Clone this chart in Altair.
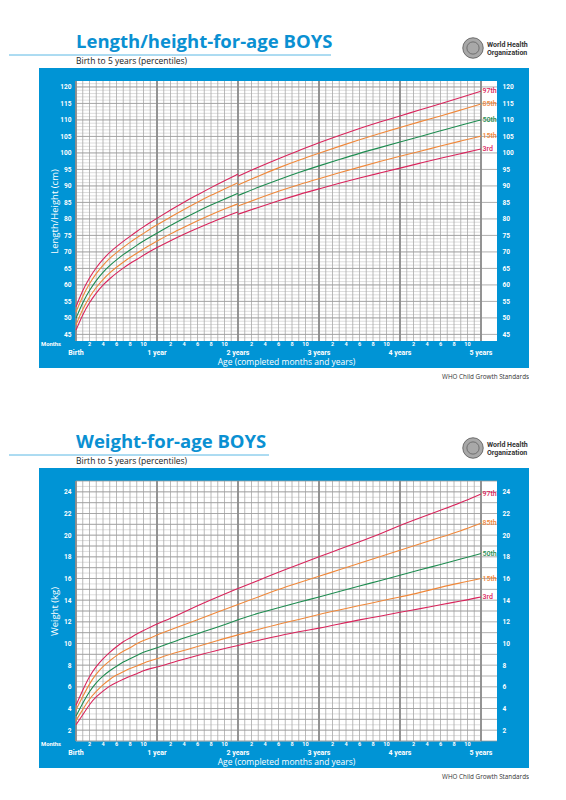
import altair as alt
import pandas as pd

# ---------------- data ----------------
pct_names = ["97th", "85th", "50th", "15th", "3rd"]

len_months = [0, 1, 2, 3, 4, 5, 6, 7, 8, 9, 10, 11, 12, 14, 16, 18, 20, 22, 24]
len_p3 = [46.3, 51.1, 54.7, 57.6, 60.0, 61.9, 63.6, 65.1, 66.5, 67.7, 69.0, 70.2, 71.3, 73.4, 75.4, 77.2, 78.9, 80.6, 82.1]
len_p15 = [47.9, 52.7, 56.4, 59.3, 61.7, 63.7, 65.4, 66.9, 68.3, 69.6, 70.9, 72.1, 73.3, 75.5, 77.5, 79.5, 81.3, 83.0, 84.6]
len_p50 = [49.9, 54.7, 58.4, 61.4, 63.9, 65.9, 67.6, 69.2, 70.6, 72.0, 73.3, 74.5, 75.7, 78.0, 80.2, 82.3, 84.2, 86.0, 87.8]
len_p85 = [51.8, 56.7, 60.5, 63.5, 66.0, 68.1, 69.8, 71.4, 72.9, 74.3, 75.6, 77.0, 78.2, 80.6, 82.9, 85.1, 87.2, 89.1, 91.0]
len_p97 = [53.4, 58.4, 62.2, 65.3, 67.8, 69.9, 71.6, 73.2, 74.7, 76.2, 77.6, 78.9, 80.2, 82.7, 85.1, 87.3, 89.5, 91.6, 93.6]

hgt_months = [24, 27, 30, 33, 36, 39, 42, 45, 48, 51, 54, 57, 60]
hgt_p3 = [81.4, 83.5, 85.5, 87.4, 89.1, 90.8, 92.4, 93.9, 95.4, 96.9, 98.4, 99.8, 101.2]
hgt_p15 = [83.9, 86.2, 88.4, 90.4, 92.2, 94.0, 95.7, 97.4, 99.0, 100.5, 102.1, 103.6, 105.1]
hgt_p50 = [87.1, 89.6, 91.9, 94.1, 96.1, 98.0, 99.9, 101.6, 103.3, 105.0, 106.7, 108.4, 110.0]
hgt_p85 = [90.3, 93.0, 95.5, 97.8, 99.9, 102.0, 104.0, 105.9, 107.7, 109.5, 111.2, 113.0, 114.8]
hgt_p97 = [92.9, 95.7, 98.3, 100.7, 103.1, 105.3, 107.4, 109.4, 111.2, 113.1, 114.9, 116.8, 118.7]

wt_months = [0, 1, 2, 3, 4, 5, 6, 7, 8, 9, 10, 11, 12, 15, 18, 21, 24, 27, 30, 33, 36, 39, 42, 45, 48, 51, 54, 57, 60]
wt_p3 = [2.5, 3.4, 4.4, 5.1, 5.6, 6.1, 6.4, 6.7, 7.0, 7.2, 7.5, 7.7, 7.8, 8.4, 8.9, 9.4, 9.8, 10.3, 10.7, 11.1, 11.4, 11.8, 12.2, 12.5, 12.9, 13.2, 13.6, 13.9, 14.3]
wt_p15 = [2.9, 3.9, 4.9, 5.6, 6.2, 6.7, 7.1, 7.4, 7.7, 7.9, 8.2, 8.4, 8.6, 9.2, 9.7, 10.3, 10.8, 11.3, 11.8, 12.2, 12.7, 13.1, 13.5, 13.9, 14.3, 14.7, 15.2, 15.6, 16.0]
wt_p50 = [3.3, 4.5, 5.6, 6.4, 7.0, 7.5, 7.9, 8.3, 8.6, 8.9, 9.2, 9.4, 9.6, 10.3, 10.9, 11.5, 12.2, 12.8, 13.3, 13.8, 14.3, 14.8, 15.3, 15.8, 16.3, 16.8, 17.3, 17.8, 18.3]
wt_p85 = [3.9, 5.1, 6.3, 7.2, 7.9, 8.4, 8.9, 9.3, 9.6, 10.0, 10.3, 10.5, 10.8, 11.5, 12.2, 12.9, 13.6, 14.3, 15.0, 15.6, 16.2, 16.8, 17.4, 18.0, 18.6, 19.2, 19.8, 20.4, 21.1]
wt_p97 = [4.3, 5.7, 7.0, 7.9, 8.6, 9.2, 9.7, 10.2, 10.5, 10.9, 11.2, 11.5, 11.8, 12.6, 13.5, 14.3, 15.1, 15.8, 16.6, 17.3, 18.0, 18.7, 19.4, 20.1, 20.9, 21.6, 22.3, 23.0, 23.8]

year_months = [0, 12, 24, 36, 48, 60]
year_labels = ["Birth", "1 year", "2 years", "3 years", "4 years", "5 years"]
month_in_year = [2, 4, 6, 8, 10]

len_ticks = [45, 50, 55, 60, 65, 70, 75, 80, 85, 90, 95, 100, 105, 110, 115, 120]
wt_ticks = [2, 4, 6, 8, 10, 12, 14, 16, 18, 20, 22, 24]

# ---------------- style ----------------
BLUE = "#0094d5"
TITLE_BLUE = "#0a90d2"
RED = "#d9255c"
ORANGE = "#f0883a"
GREEN = "#1e8c50"
pct_colors = [RED, ORANGE, GREEN, ORANGE, RED]
W, H = 421, 260
X_MAX = 62.37
NARROW = "Roboto"
SANS = "Open Sans"


def seg_rows(seg, months, series):
    rows = []
    for name, vals in zip(pct_names, series):
        for m, v in zip(months, vals):
            rows.append({"seg": seg, "pct": name, "m": m, "v": v})
    return rows


def panel(title, underline_end, y_domain, y_title, y_ticks, minor_vals, major_vals, line_rows):
    xs = alt.Scale(domain=[0, X_MAX], nice=False, zero=False)
    ys = alt.Scale(domain=y_domain, nice=False, zero=False)
    one = alt.Data(values=[{"a": 1}])
    cscale = alt.Scale(domain=pct_names, range=pct_colors)

    blue = alt.Chart(one).mark_rect(color=BLUE).encode(
        x=alt.value(-37), x2=alt.value(453), y=alt.value(-13), y2=alt.value(287))
    white = alt.Chart(one).mark_rect(color="white").encode(
        x=alt.value(0), x2=alt.value(W), y=alt.value(0), y2=alt.value(H))

    minor_df = pd.DataFrame({"v": minor_vals})
    minor = alt.Chart(minor_df).mark_rule(color="#cfcfcf", strokeWidth=0.7).encode(
        y=alt.Y("v:Q", scale=ys, axis=None),
        x=alt.X(datum=0, scale=xs, axis=None), x2=alt.X2(datum=60))

    month_df = pd.DataFrame({"m": list(range(0, 61))})
    vlines = alt.Chart(month_df).mark_rule(color="#a8a8a8", strokeWidth=0.8).encode(
        x=alt.X("m:Q", scale=xs, axis=None))

    major_df = pd.DataFrame({"v": major_vals})
    major = alt.Chart(major_df).mark_rule(color="#9a9a9a", strokeWidth=0.8).encode(
        y=alt.Y("v:Q", scale=ys, axis=alt.Axis(
            orient="left", values=y_ticks, domain=False, ticks=False, grid=False, zindex=2,
            labelColor="white", labelFont=NARROW, labelFontWeight="bold", labelFontSize=6.5,
            labelPadding=5, title=y_title, titleColor="white", titleFont=SANS,
            titleFontSize=9.5, titleFontWeight="normal", titleX=-22, titleY=H / 2,
            titleAngle=-90, titleAlign="center", titleBaseline="middle")))

    right_axis = alt.Chart(major_df).mark_rule(opacity=0).encode(
        y=alt.Y("v:Q", scale=ys, axis=alt.Axis(
            orient="right", values=y_ticks, domain=False, ticks=False, grid=False, zindex=2,
            labelColor="white", labelFont=NARROW, labelFontWeight="bold", labelFontSize=6.5,
            labelPadding=5, title=None)))

    year_df = pd.DataFrame({"m": year_months, "lab": year_labels})
    ylines = alt.Chart(year_df).mark_rule(color="#8c8c8c", strokeWidth=1.8).encode(
        x=alt.X("m:Q", scale=xs, axis=None))

    ldf = pd.DataFrame(line_rows)
    lines = alt.Chart(ldf).mark_line(strokeWidth=1.1, interpolate="basis").encode(
        x=alt.X("m:Q", scale=xs, axis=None),
        y=alt.Y("v:Q", scale=ys, axis=None),
        color=alt.Color("pct:N", scale=cscale, legend=None),
        detail="seg:N")

    end_df = ldf[ldf["m"] == 60]
    labels = alt.Chart(end_df).mark_text(align="left", dx=1.5, fontSize=7, font=NARROW,
                                        fontWeight=500, baseline="middle").encode(
        x=alt.X("m:Q", scale=xs, axis=None),
        y=alt.Y("v:Q", scale=ys, axis=None),
        text="pct:N",
        color=alt.Color("pct:N", scale=cscale, legend=None))

    mt_rows = [{"m": y * 12 + k, "lab": str(k)} for y in range(5) for k in month_in_year]
    mt = alt.Chart(pd.DataFrame(mt_rows)).mark_text(
        color="white", fontSize=5.5, font=NARROW, fontWeight="bold", baseline="middle").encode(
        x=alt.X("m:Q", scale=xs, axis=None), y=alt.value(263), text="lab:N")

    yl = alt.Chart(year_df).mark_text(
        color="white", fontSize=7, font=NARROW, fontWeight="bold", baseline="middle").encode(
        x=alt.X("m:Q", scale=xs, axis=None), y=alt.value(271.5), text="lab:N")

    months_t = alt.Chart(one).mark_text(
        text="Months", color="white", fontSize=5.8, font=NARROW, fontWeight="bold",
        baseline="middle").encode(x=alt.value(-25), y=alt.value(263))

    age_t = alt.Chart(one).mark_text(
        text="Age (completed months and years)", color="white", fontSize=8.5, font=SANS,
        baseline="middle").encode(x=alt.value(W / 2), y=alt.value(281))

    std_t = alt.Chart(one).mark_text(
        text="WHO Child Growth Standards", color="#333333", fontSize=6.3, font=SANS,
        align="right", baseline="middle").encode(x=alt.value(453), y=alt.value(296))

    title_t = alt.Chart(one).mark_text(
        text=title, color=TITLE_BLUE, fontSize=18.5, font=SANS, fontWeight="bold",
        align="left", baseline="alphabetic").encode(x=alt.value(0), y=alt.value(-33))

    uline = alt.Chart(one).mark_rule(color="#5bb8e4", strokeWidth=1).encode(
        x=alt.value(-67), x2=alt.value(underline_end), y=alt.value(-26))

    sub_t = alt.Chart(one).mark_text(
        text="Birth to 5 years (percentiles)", color="#222222", fontSize=8.5, font=SANS,
        align="left", baseline="middle").encode(x=alt.value(0), y=alt.value(-20))

    emblem = alt.Chart(one).mark_point(
        shape="circle", size=420, filled=True, color="#a8a8a8", stroke="#555555",
        strokeWidth=0.8, opacity=1).encode(x=alt.value(397), y=alt.value(-33))
    emblem_in = alt.Chart(one).mark_point(
        shape="circle", size=150, filled=False, color="#444444", strokeWidth=0.8).encode(
        x=alt.value(397), y=alt.value(-33))
    who1 = alt.Chart(one).mark_text(
        text="World Health", color="#333333", fontSize=7, font=NARROW, fontWeight="bold",
        align="left", baseline="middle").encode(x=alt.value(411), y=alt.value(-36))
    who2 = alt.Chart(one).mark_text(
        text="Organization", color="#333333", fontSize=7, font=NARROW, fontWeight="bold",
        align="left", baseline="middle").encode(x=alt.value(411), y=alt.value(-28))

    return alt.layer(
        blue, white, minor, vlines, major, right_axis, ylines, lines, labels,
        mt, yl, months_t, age_t, std_t, title_t, uline, sub_t, emblem, emblem_in, who1, who2
    ).properties(width=W, height=H)


len_rows = seg_rows("length", len_months, [len_p97, len_p85, len_p50, len_p15, len_p3]) + \
    seg_rows("height", hgt_months, [hgt_p97, hgt_p85, hgt_p50, hgt_p15, hgt_p3])
wt_rows = seg_rows("weight", wt_months, [wt_p97, wt_p85, wt_p50, wt_p15, wt_p3])

top = panel("Length/height-for-age BOYS", 255, [43.0, 121.8], "Length/Height (cm)", len_ticks,
            list(range(44, 122)), list(range(45, 121, 5)), len_rows)
bottom = panel("Weight-for-age BOYS", 193, [1.0, 25.0], "Weight (kg)", wt_ticks,
               [x / 2 for x in range(2, 50)], list(range(1, 26)), wt_rows)

chart = alt.vconcat(top, bottom, spacing=140, bounds="flush").properties(
    padding={"left": 0, "top": 25, "right": 0, "bottom": 0}
).configure_view(stroke=None)

chart.save("out.html", embed_options={"renderer": "svg", "actions": False})
